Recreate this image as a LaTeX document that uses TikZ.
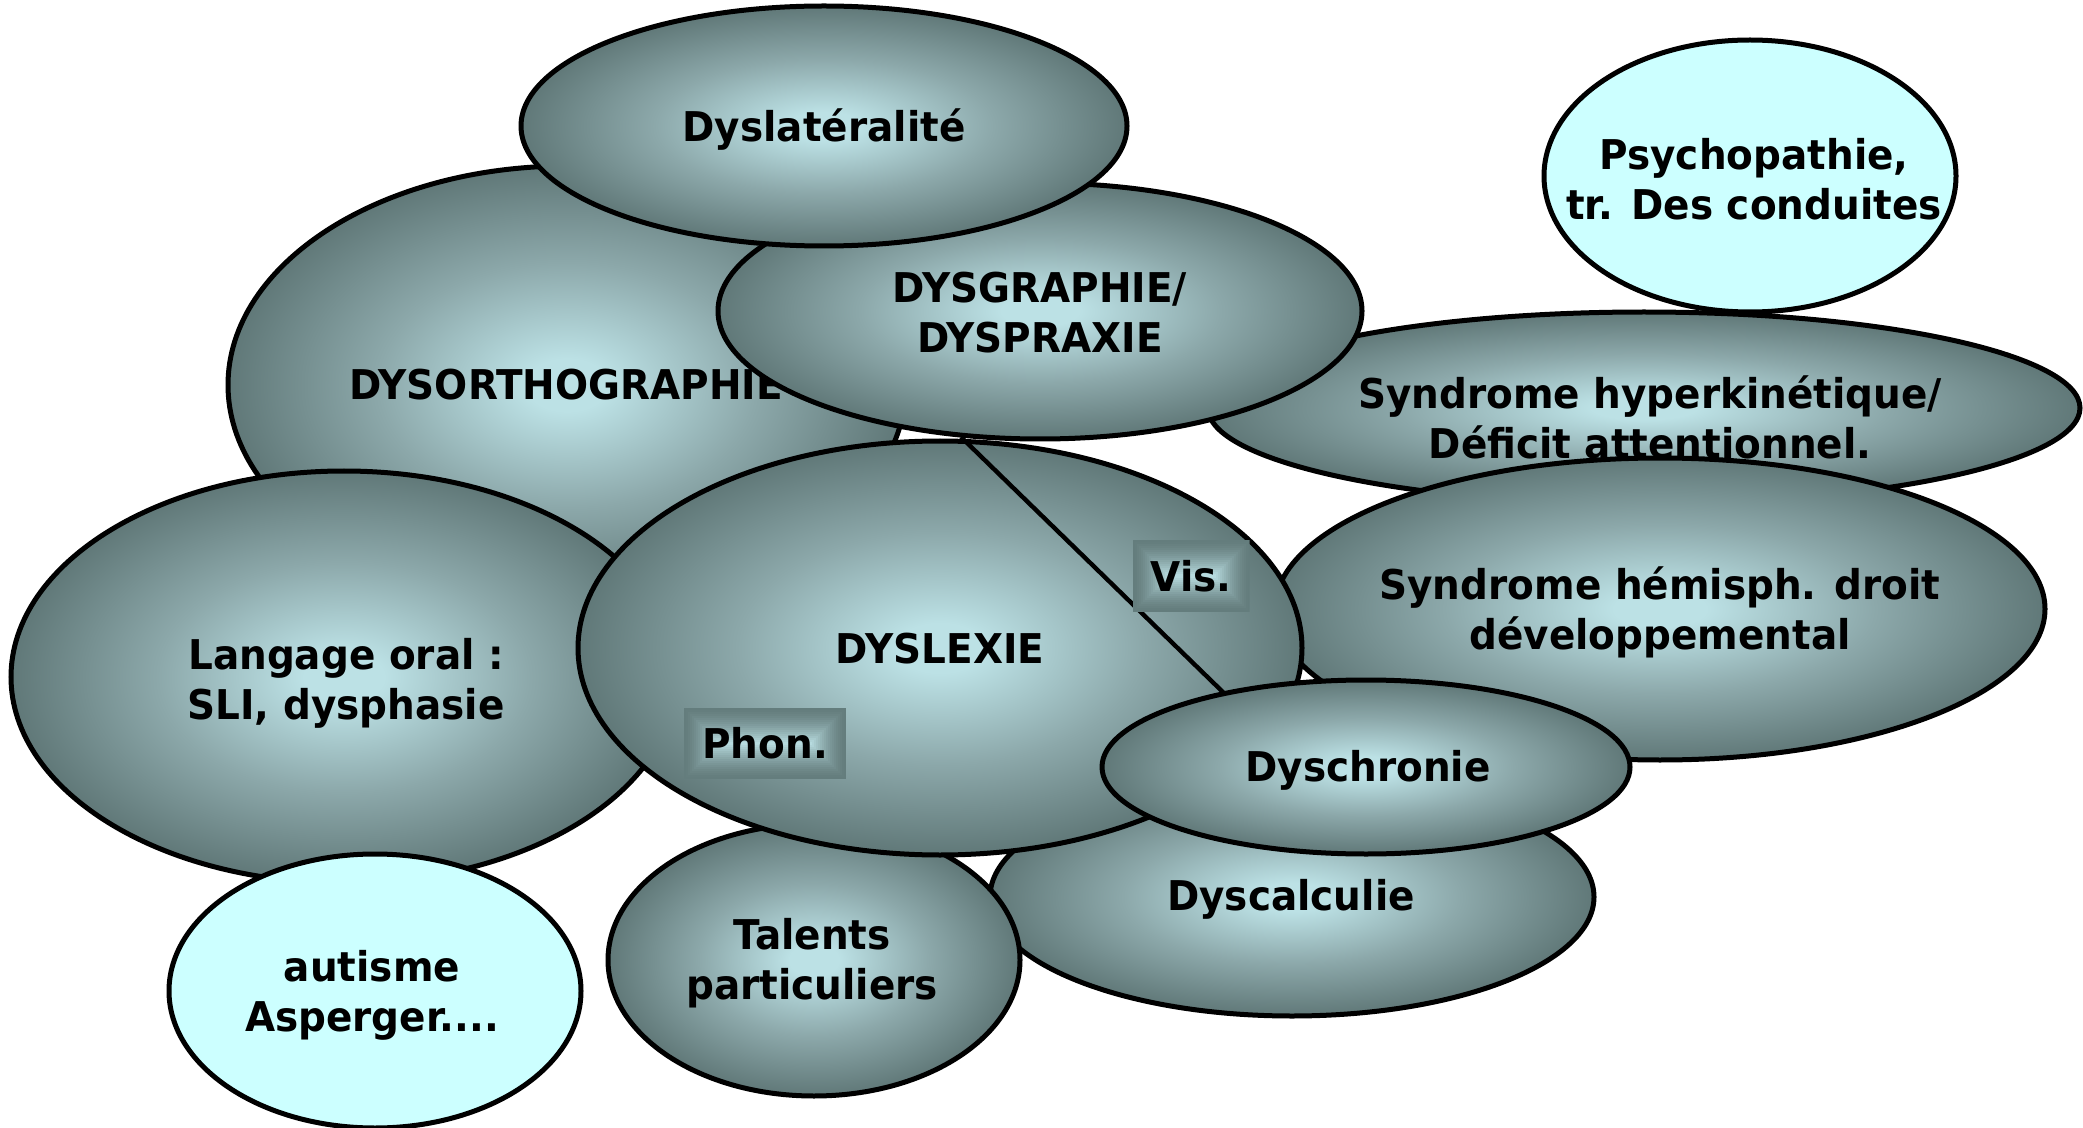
\documentclass[tikz,border=0pt]{standalone}
\usepackage{fontspec}
\setmainfont{DejaVu Sans}[FakeStretch=0.95]
\usetikzlibrary{shapes.geometric}
\definecolor{ecenter}{RGB}{188,225,229}
\definecolor{emid}{RGB}{140,168,170}
\definecolor{eedge}{RGB}{96,120,120}
\definecolor{pale}{RGB}{204,255,255}
\pgfdeclareradialshading{blobshade}{\pgfpoint{0bp}{0bp}}{color(0bp)=(ecenter); color(3bp)=(ecenter); color(14bp)=(emid); color(25bp)=(eedge); color(50bp)=(eedge)}
\begin{document}
\begin{tikzpicture}[x=0.5pt,y=-0.5pt,
  blob/.style={ellipse, draw=black, line width=2.5pt, shading=blobshade, inner sep=0pt},
  paleblob/.style={ellipse, draw=black, line width=2.5pt, fill=pale, inner sep=0pt},
  txt/.style={font=\bfseries\fontsize{20.5}{25}\selectfont, align=center, inner sep=0pt},
  divider/.style={line width=2.2pt},
  labelbox/.style={inner sep=0pt, font=\bfseries\fontsize{20.5}{25}\selectfont,
    path picture={
      \foreach \i in {0,...,17}{
        \pgfmathsetmacro\pct{100*(\i/17)^1.5}
        \fill[ecenter!\pct!eedge!90!emid] ([shift={(\i*1pt,\i*1pt)}]path picture bounding box.south west) rectangle ([shift={(-\i*1pt,-\i*1pt)}]path picture bounding box.north east);
      }}}
]
\useasboundingbox (0,0) rectangle (2083,1128);

\node[blob, minimum width=339pt, minimum height=219pt] (dysortho) at (567,385) {};
\node[txt] (dysorthoT) at (566,385) {DYSORTHOGRAPHIE};

\node[blob, minimum width=333pt, minimum height=206pt] (langage) at (344,677) {};
\node[txt] (langageT) at (346,683) {Langage oral :\\SLI, dysphasie};

\node[blob, minimum width=436pt, minimum height=96pt] (hyper) at (1644,408) {};
\node[txt] (hyperT) at (1650,417) {Syndrome hyperkinétique/\\Déficit attentionnel.};

\node[blob, minimum width=322pt, minimum height=128pt] (dysgraph) at (1040,311) {};
\node[txt] (dysgraphT) at (1040,313) {DYSGRAPHIE/\\DYSPRAXIE};

\node[blob, minimum width=303pt, minimum height=120pt] (dyslat) at (824,126) {};
\node[txt] (dyslatT) at (824,130) {Dyslatéralité};

\node[blob, minimum width=385pt, minimum height=151pt] (hemis) at (1660,609) {};
\node[txt] (hemisT) at (1660,612) {Syndrome hémisph. droit\\développemental};

\node[blob, minimum width=302pt, minimum height=119pt] (dyscalc) at (1292,897) {};
\node[txt] (dyscalcT) at (1291,899) {Dyscalculie};

\node[blob, minimum width=206pt, minimum height=136pt] (talents) at (814,960) {};
\node[txt] (talentsT) at (812,963) {Talents\\particuliers};

\node[blob, minimum width=362pt, minimum height=207pt] (dyslexie) at (940,648) {};
\node[txt] (dyslexieT) at (940,649) {DYSLEXIE};

\coordinate (divtop) at (961,437);
\coordinate (divbot) at (1230,699);
\draw[divider] (divtop) -- (divbot);

\node[labelbox, minimum width=58.5pt, minimum height=36pt] (vis) at (1191,576) {Vis.};
\node[labelbox, minimum width=81pt, minimum height=35.5pt] (phon) at (765,743) {Phon.};

\node[blob, minimum width=264pt, minimum height=87pt] (dyschron) at (1366,767) {};
\node[txt] (dyschronT) at (1368,770) {Dyschronie};

\node[paleblob, minimum width=206pt, minimum height=137pt] (autisme) at (375,991) {};
\node[txt] (autismeT) at (372,995) {autisme\\Asperger....};

\node[paleblob, minimum width=206pt, minimum height=136pt] (psycho) at (1750,176) {};
\node[txt] (psychoT) at (1754,179) {Psychopathie,\\tr. Des conduites};
\end{tikzpicture}
\end{document}
